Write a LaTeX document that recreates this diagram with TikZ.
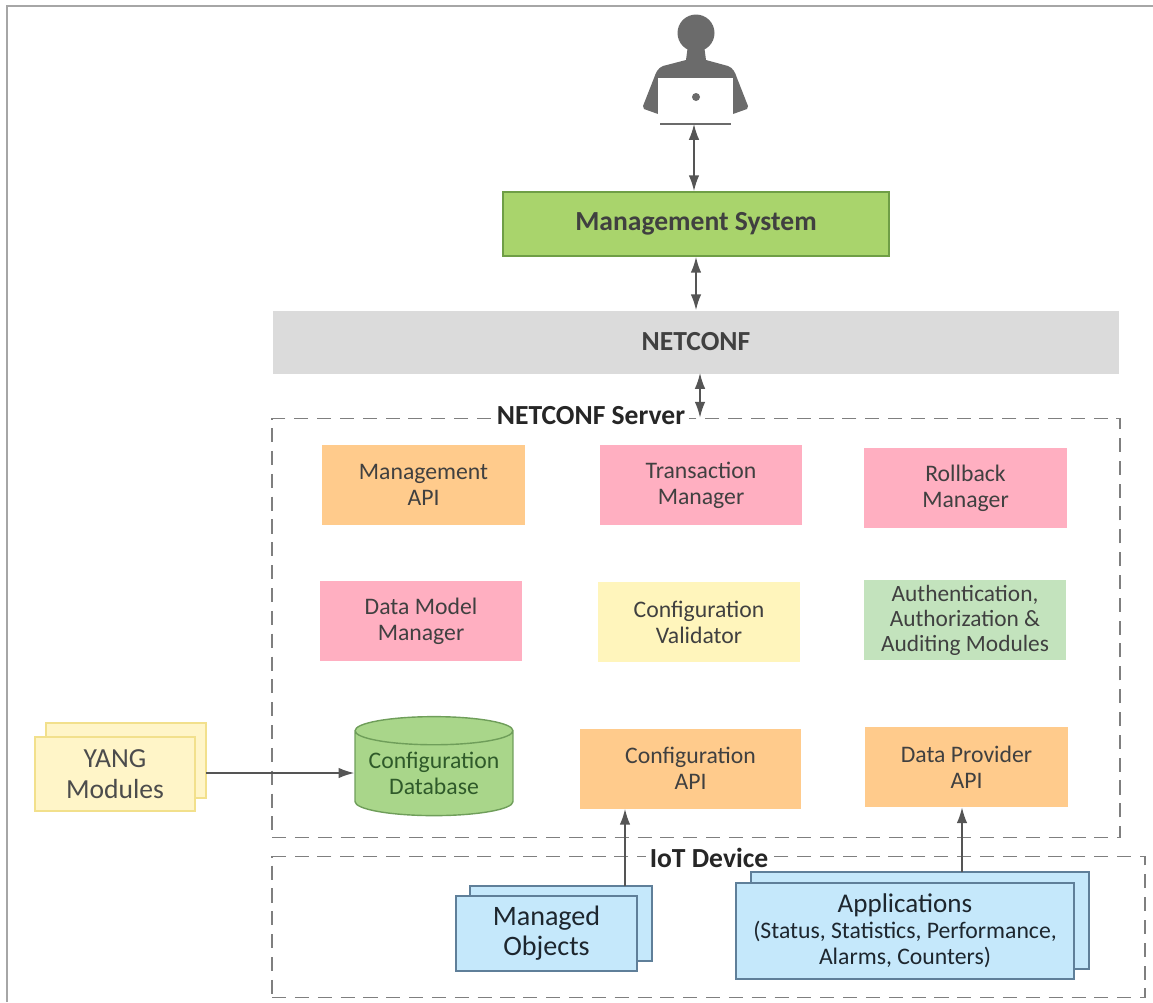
\documentclass[tikz,border=0pt]{standalone}
\usepackage{fontspec}
\setmainfont{Carlito}
\usetikzlibrary{shapes.geometric, arrows.meta}

\definecolor{framegray}{HTML}{A6A6A6}
\definecolor{usergray}{HTML}{6B6B6B}
\definecolor{linegray}{HTML}{555555}
\definecolor{dashgray}{HTML}{7F7F7F}
\definecolor{mgmtgreen}{HTML}{A9D46C}
\definecolor{mgmtedge}{HTML}{6F9E46}
\definecolor{barfill}{HTML}{DBDBDB}
\definecolor{apiorange}{HTML}{FFCB8C}
\definecolor{mgrpink}{HTML}{FFAFC1}
\definecolor{valyellow}{HTML}{FFF5BC}
\definecolor{authgreen}{HTML}{C3E3BD}
\definecolor{dbgreen}{HTML}{A9D68A}
\definecolor{dbedge}{HTML}{6F9E5A}
\definecolor{dbtext}{HTML}{2F5A2A}
\definecolor{yangfill}{HTML}{FFF5C8}
\definecolor{yangedge}{HTML}{F2E08C}
\definecolor{objfill}{HTML}{C5E8FB}
\definecolor{objedge}{HTML}{5F7F99}

\begin{document}
\begin{tikzpicture}[x=0.02cm, y=-0.02cm, font=\fontsize{13.5}{14.7}\selectfont]

        % Setup the styles for the boxes
        \tikzset{box style/.style={rectangle,
                                   minimum width=4.06cm,
                                   minimum height=1.6cm,
                                   inner sep=0pt,
                                   align=center,
                                   text=black!75},
                 back style/.style={rectangle, draw, line width=0.9pt, inner sep=0pt},
                 front style/.style={back style, align=center},
                 group style/.style={rectangle, draw=dashgray, line width=1pt,
                                     dash pattern=on 8pt off 5pt, inner sep=0pt},
                 group label/.style={fill=white, inner sep=2pt, font=\fontsize{15.7}{17}\selectfont\bfseries,
                                     text=black!85},
                 link/.style={draw=linegray, line width=0.9pt,
                              {Latex[length=9pt, width=6pt]}-{Latex[length=9pt, width=6pt]}},
                 uplink/.style={draw=linegray, line width=0.9pt, -{Latex[length=9pt, width=6pt]}}}

        \useasboundingbox (0, 0) rectangle (1153, 1002);

        % Draw the frame of the picture
        \draw[framegray, line width=0.8pt] (7, 1002) -- (7, 6) -- (1153, 6);

        % Draw the user with the laptop
        \fill[usergray] (696, 33) circle (18.5);
        \fill[usergray] (688, 45) -- (704, 45) -- (706, 60) -- (728, 66)
            .. controls (733, 68) and (735, 72) .. (737, 78)
            -- (748, 106) -- (747, 109) -- (733, 114) -- (658, 114) -- (644, 109)
            -- (643, 106) -- (654, 78)
            .. controls (656, 72) and (658, 68) .. (663, 66)
            -- (686, 60) -- cycle;
        \fill[white] (658, 78) rectangle (733, 115);
        \fill[usergray] (696, 97) circle (4);
        \draw[usergray, line width=1.3pt] (660, 124) -- (731, 124);
        \coordinate (user) at (694, 124);

        % Draw the top boxes
        \node[box style, fill=mgmtgreen, draw=mgmtedge, line width=1pt, minimum width=7.72cm,
              minimum height=1.28cm, font=\fontsize{15.7}{17}\selectfont\bfseries]
                                at (696, 224)  (mgmt)     {Management System};
        \node[box style, fill=barfill, minimum width=16.92cm, minimum height=1.26cm,
              font=\fontsize{15.7}{17}\selectfont\bfseries]
                                at (696, 342)  (netconf)  {NETCONF};

        % Draw the groups
        \node[group style, minimum width=16.96cm, minimum height=8.38cm]
                                at (696, 628)  (server)   {};
        \node[group style, minimum width=17.46cm, minimum height=2.82cm]
                                at (708.5, 927) (device)  {};
        \node[group label]      at (591, 416)  (serverlabel)  {NETCONF Server};
        \node[group label]      at (709, 858)  (devicelabel)  {IoT Device};

        % Draw the modules of the server
        \node[box style, fill=apiorange] at (423.5, 485) (mgmtapi)   {Management\\API};
        \node[box style, fill=mgrpink]   at (701, 485)   (transmgr)  {Transaction\\Manager};
        \node[box style, fill=mgrpink]   at (965.5, 488) (rollback)  {Rollback\\Manager};
        \node[box style, fill=mgrpink]   at (421, 621)   (datamgr)   {Data Model\\Manager};
        \node[box style, fill=valyellow] at (699, 622)   (validator) {Configuration\\Validator};
        \node[box style, fill=authgreen, font=\fontsize{13.3}{14.2}\selectfont]
                                         at (965, 620)   (auth)      {Authentication,\\Authorization \&\\Auditing Modules};
        \node[box style, fill=apiorange, minimum width=4.42cm]
                                         at (690.5, 768.5) (confapi) {Configuration\\API};
        \node[box style, fill=apiorange] at (966.5, 767) (provider)  {Data Provider\\API};
        \node[cylinder, shape border rotate=90, aspect=0.215, draw=dbedge, line width=0.8pt,
              cylinder uses custom fill, cylinder body fill=dbgreen, cylinder end fill=dbgreen,
              minimum width=3.16cm, minimum height=1.98cm, inner sep=0pt, align=center,
              text=dbtext]
                                         at (434, 773.5) (database)  {Configuration\\Database};

        % Draw the stacked boxes
        \node[back style, fill=yangfill, draw=yangedge, minimum width=3.2cm, minimum height=1.5cm]
                                at (126, 760.5) (yangback) {};
        \node[front style, fill=yangfill, draw=yangedge, minimum width=3.2cm, minimum height=1.48cm,
              text=black!70, font=\fontsize{15.7}{17.6}\selectfont]
                                at (115, 774)   (yang)     {YANG\\Modules};
        \node[back style, fill=objfill, draw=objedge, minimum width=3.64cm, minimum height=1.5cm]
                                at (561, 923.5) (objback)  {};
        \node[front style, fill=objfill, draw=objedge, minimum width=3.62cm, minimum height=1.5cm,
              text=black!70!objedge, font=\fontsize{16}{17}\selectfont]
                                at (546.5, 933.5) (objects) {Managed\\Objects};
        \node[back style, fill=objfill, draw=objedge, minimum width=6.76cm, minimum height=1.94cm]
                                at (920, 920.5) (appback)  {};
        \node[front style, fill=objfill, draw=objedge, minimum width=6.76cm, minimum height=1.92cm,
              text=black!70!objedge]
                                at (905, 931)   (apps)     {{\fontsize{15.4}{18}\selectfont Applications}\\(Status, Statistics, Performance,\\Alarms, Counters)};

        % Connect the boxes with arrows
        \coordinate (netconfport) at (700, 373);
        \coordinate (yangport) at (206, 773);
        \coordinate (objport) at (625, 886);
        \coordinate (appport) at (962, 872);
        \draw[link] (user) -- (user |- mgmt.north);
        \draw[link] (mgmt.south) -- (mgmt.south |- netconf.north);
        \draw[link] (netconfport) -- (netconfport |- server.north);
        \draw[uplink] (yangport) -- (yangport -| database.west);
        \draw[uplink] (objport) -- (objport |- confapi.south);
        \draw[uplink] (appport) -- (appport |- provider.south);
\end{tikzpicture}
\end{document}
